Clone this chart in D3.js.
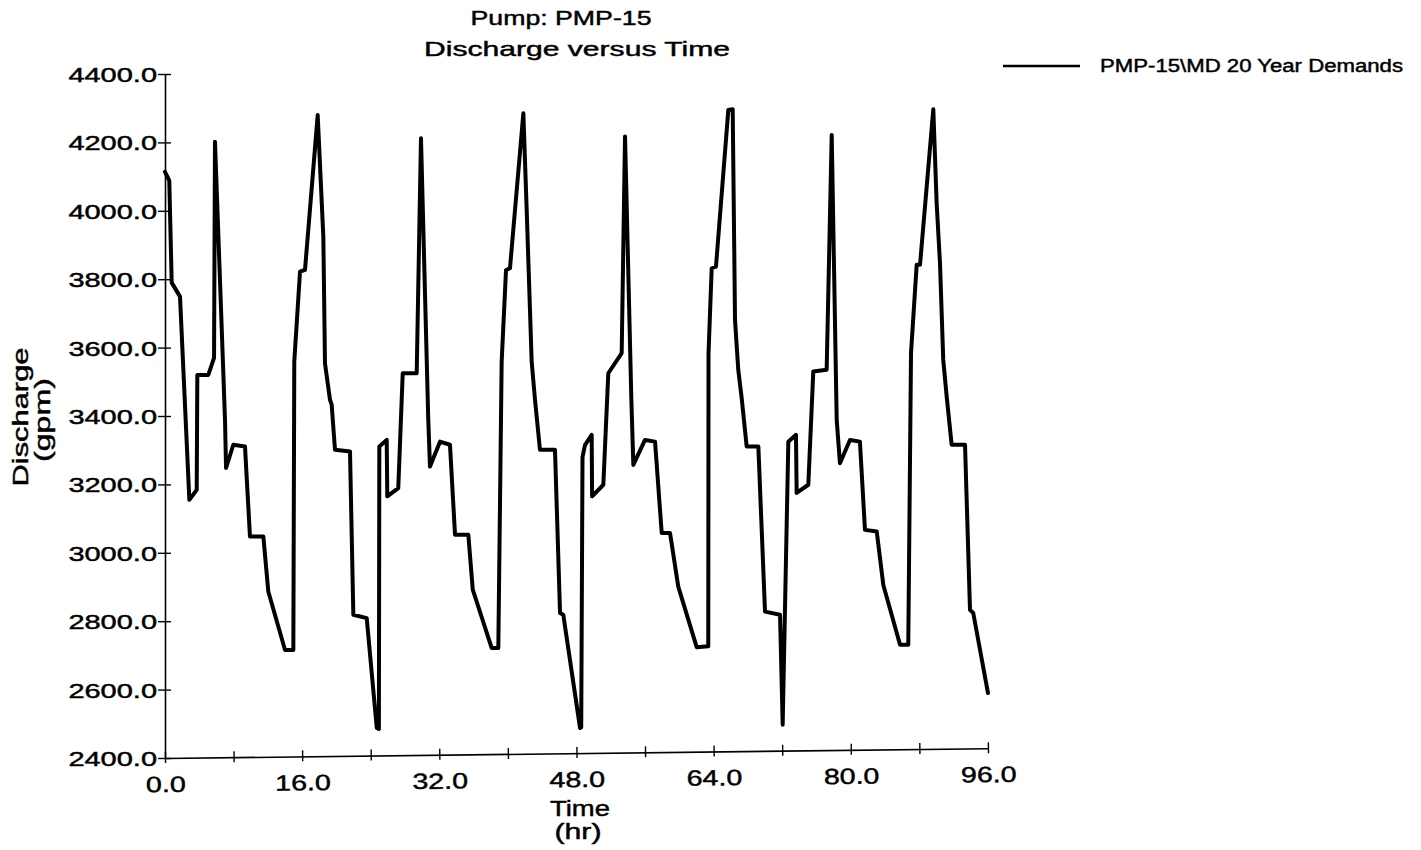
<!DOCTYPE html>
<html>
<head>
<meta charset="utf-8">
<script src="https://cdn.jsdelivr.net/npm/d3@7"></script>
<style>
  html, body { margin: 0; padding: 0; background: #fff; }
  svg { display: block; }
  text { font-family: "Liberation Sans", Arial, sans-serif; fill: #000; stroke: #000; stroke-width: 0.45px; }
</style>
</head>
<body>
<svg id="chart" width="1421" height="850"></svg>
<script>
// ---- data ----
const titleLines = ["Pump: PMP-15", "Discharge versus Time"];
const seriesName = "PMP-15\\MD 20 Year Demands";
const xTitle = ["Time", "(hr)"];
const yTitle = ["Discharge", "(gpm)"];
const yTickValues = [2400, 2600, 2800, 3000, 3200, 3400, 3600, 3800, 4000, 4200, 4400];
const xTickValues = [0, 8, 16, 24, 32, 40, 48, 56, 64, 72, 80, 88, 96];
const xLabelValues = [0, 16, 32, 48, 64, 80, 96];

const times = [
  0.00, 0.50, 0.78, 1.75, 2.84, 3.70, 3.77, 5.05, 5.72, 5.83, 7.00, 7.12,
  7.97, 9.33, 9.91, 11.47, 12.05, 14.00, 14.97, 15.08, 15.75, 16.33, 17.81,
  18.47, 18.66, 19.25, 19.44, 19.83, 21.58, 21.97, 23.53, 24.70, 24.95, 25.00,
  25.86, 25.93, 27.21, 27.73, 29.36, 29.86, 30.71, 30.91, 32.08, 33.24, 33.83,
  35.38, 35.90, 38.10, 38.88, 39.27, 39.78, 40.24, 41.80, 42.19, 42.77, 43.16,
  43.74, 45.49, 46.08, 46.46, 48.41, 48.55, 48.70, 48.99, 49.77, 49.82, 51.13,
  51.71, 53.27, 53.66, 54.40, 54.63, 55.99, 57.16, 57.94, 58.91, 59.87, 62.02,
  63.37, 63.40, 63.77, 64.27, 65.71, 66.22, 66.49, 66.87, 67.27, 67.85, 69.21,
  69.99, 71.74, 72.05, 72.71, 73.60, 73.68, 75.04, 75.62, 77.18, 77.77, 78.35,
  78.73, 79.90, 81.06, 81.65, 83.02, 83.79, 85.74, 86.70, 87.02, 87.68, 88.07,
  89.62, 90.01, 90.40, 90.78, 91.18, 91.76, 93.32, 93.90, 94.28, 96.00
];
const discharge = [
  4114, 4088, 3790, 3749, 3155, 3184, 3520, 3520, 3570, 4202, 3389, 3248,
  3316, 3311, 3048, 3048, 2887, 2716, 2716, 3559, 3822, 3827, 4280,
  3924, 3554, 3447, 3433, 3301, 3296, 2819, 2809, 2488, 2485, 3311,
  3330, 3165, 3189, 3525, 3525, 4212, 3389, 3252, 3325, 3316, 3053,
  3053, 2892, 2722, 2722, 3559, 3827, 3832, 4285, 4002, 3559, 3447,
  3301, 3301, 2824, 2819, 2488, 2490, 3280, 3315, 3345, 3165, 3199,
  3525, 3584, 4217, 3447, 3257, 3330, 3325, 3058, 3058, 2901, 2724,
  2727, 3584, 3832, 3837, 4295, 4297, 3681, 3535, 3452, 3311, 3311,
  2828, 2819, 2497, 3325, 3345, 3175, 3199, 3530, 3535, 4222, 3389,
  3262, 3330, 3325, 3067, 3062, 2906, 2731, 2731, 3584, 3842, 3842,
  4297, 4022, 3847, 3564, 3457, 3316, 3316, 2833, 2824, 2590
];

// ---- chart ----
const svg = d3.select("#chart");
const x = d3.scaleLinear().domain([0, 96]).range([165, 988]);
const y = d3.scaleLinear().domain([2400, 4400]).range([758, 74]);

function stretch(sel, sx) {
  sel.each(function () {
    const t = d3.select(this);
    const tx = +t.attr("x") || 0;
    const ty = +t.attr("y") || 0;
    t.attr("x", 0).attr("y", 0)
     .attr("transform", `translate(${tx},${ty}) scale(${sx},1)`);
  });
}

// Y axis
const yAxis = svg.append("g")
  .attr("transform", "translate(165,0)")
  .call(d3.axisLeft(y).tickValues(yTickValues).tickFormat(d3.format(".1f"))
        .tickSizeInner(7).tickSizeOuter(0).tickPadding(1));
yAxis.select(".domain").attr("stroke", "#000").attr("stroke-width", 1.6);
yAxis.selectAll(".tick line").attr("x1", 6).attr("stroke", "#000").attr("stroke-width", 1.4);
yAxis.selectAll(".tick text").attr("font-size", 21).attr("font-family", "Liberation Sans, Arial, sans-serif")
  .attr("fill", "#000").attr("dy", null).attr("y", 7.5);
stretch(yAxis.selectAll(".tick text"), 1.38);

// X axis (slightly tilted like the scanned original)
const xAxis = svg.append("g")
  .attr("transform", "translate(165,758) rotate(-0.68) translate(-165,0)")
  .call(d3.axisBottom(x).tickValues(xTickValues)
        .tickFormat(d => xLabelValues.includes(d) ? d3.format(".1f")(d) : "")
        .tickSizeInner(5).tickSizeOuter(0).tickPadding(0));
xAxis.select(".domain").attr("stroke", "#000").attr("stroke-width", 1.6);
xAxis.selectAll(".tick line").attr("y1", -6).attr("stroke", "#000").attr("stroke-width", 1.4);
xAxis.selectAll(".tick text").attr("font-size", 22).attr("font-family", "Liberation Sans, Arial, sans-serif")
  .attr("fill", "#000").attr("dy", null).attr("y", 34);
stretch(xAxis.selectAll(".tick text"), 1.3);

// Series line
const line = d3.line()
  .x(i => x(times[i]))
  .y(i => y(discharge[i]));
svg.append("path")
  .attr("d", line(d3.range(times.length)))
  .attr("fill", "none")
  .attr("stroke", "#000")
  .attr("stroke-width", 4)
  .attr("stroke-linejoin", "round")
  .attr("stroke-linecap", "round");

// Titles
function addText(str, cx, by, size, width, anchor, rot) {
  const t = svg.append("text")
    .attr("font-size", size)
    .attr("text-anchor", anchor || "middle")
    .attr("textLength", width)
    .attr("lengthAdjust", "spacingAndGlyphs")
    .text(str);
  if (rot) {
    t.attr("transform", `translate(${cx},${by}) rotate(${rot})`);
  } else {
    t.attr("x", cx).attr("y", by);
  }
  return t;
}
addText(titleLines[0], 561, 25, 21, 181);
addText(titleLines[1], 577, 56, 21, 306);

// Axis titles
addText(xTitle[0], 580, 816, 22, 60);
addText(xTitle[1], 578, 839, 22, 47);
addText(yTitle[0], 28, 417, 22, 139, "middle", -90);
addText(yTitle[1], 50, 420, 22, 84, "middle", -90);

// Legend
svg.append("line")
  .attr("x1", 1003).attr("x2", 1080).attr("y1", 66).attr("y2", 66)
  .attr("stroke", "#000").attr("stroke-width", 2.6);
addText(seriesName, 1100, 72, 18, 303, "start");
</script>
</body>
</html>
